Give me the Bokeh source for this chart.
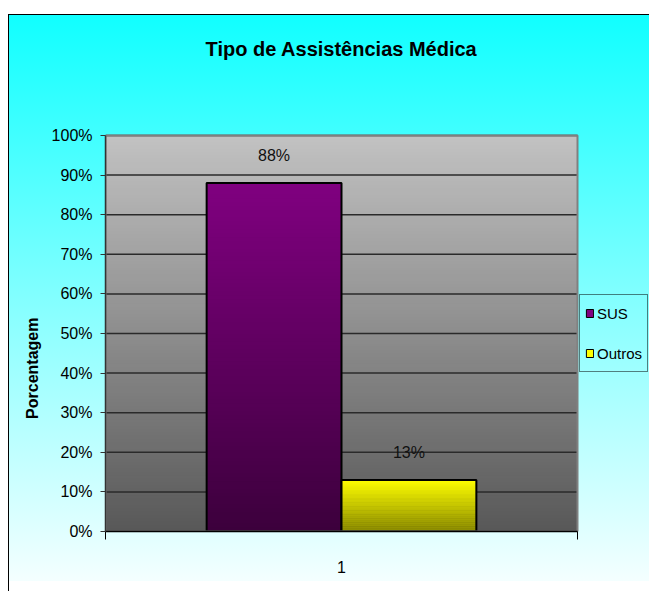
import numpy as np
from bokeh.plotting import figure
from bokeh.models import (Range1d, FixedTicker, NumeralTickFormatter, ColumnDataSource,
                          LabelSet, Label, Legend, LegendItem)
from bokeh.embed import file_html
from bokeh.resources import INLINE
from bokeh.core.properties import value

# ---- data ----
categories = ["1"]
series_names = ["SUS", "Outros"]
series_values = [0.88, 0.13]
y_ticks = [0.0, 0.1, 0.2, 0.3, 0.4, 0.5, 0.6, 0.7, 0.8, 0.9, 1.0]
title_text = "Tipo de Assistências Médica"
y_label = "Porcentagem"

# ---- style / layout ----
FONT = "Liberation Sans"
top_colors = ["#800080", "#FFFF00"]
bottom_colors = ["#3C003C", "#7F7F00"]
frame_top, frame_bottom = "#C2C2C2", "#585858"
gap = 1.5  # Excel gap width (150%)
bar_w = 1.0 / (len(series_names) + gap)

W, H = 649, 591
PA_LEFT, PA_RIGHT, PA_TOP, PA_BOTTOM = 105, 577, 135, 531   # plot-area pixels
n_cat = len(categories)
x_end = n_cat * (W - PA_LEFT) / (PA_RIGHT - PA_LEFT)
y_end = PA_BOTTOM / (PA_BOTTOM - PA_TOP)


def hex2rgb(h):
    h = h.lstrip("#")
    return np.array([int(h[i:i + 2], 16) for i in (0, 2, 4)], dtype=float)


def mix(c_bot, c_top, t):
    a, b = hex2rgb(c_bot), hex2rgb(c_top)
    c = a * (1 - t) + b * t
    return "#%02x%02x%02x" % tuple(int(round(v)) for v in c)


def strips(left, right, top, c_top, c_bot, n=90):
    ys = np.linspace(0.0, top, n + 1)
    step = ys[1] - ys[0]
    d = dict(left=[], right=[], bottom=[], top=[], color=[])
    for i in range(n):
        t = (ys[i] + ys[i + 1]) / 2.0 / top
        d["left"].append(left)
        d["right"].append(right)
        d["bottom"].append(ys[i])
        d["top"].append(min(ys[i + 1] + step * 0.6, top))
        d["color"].append(mix(c_bot, c_top, t))
    return d


p = figure(width=W, height=H, output_backend="svg", toolbar_location=None,
           x_range=Range1d(0, x_end), y_range=Range1d(0, y_end),
           min_border_left=PA_LEFT, min_border_right=0, min_border_top=0,
           min_border_bottom=H - PA_BOTTOM)

p.border_fill_color = None
p.background_fill_color = None
p.outline_line_color = None

p.styles = {
    "background": (
        "linear-gradient(#000,#000) 8px 14px/100% 1px no-repeat, "
        "linear-gradient(#000,#000) 8px 14px/1px 100% no-repeat, "
        "linear-gradient(to bottom, #10ffff, #f4ffff) 8px 14px/100% 567px no-repeat, "
        "#ffffff"
    )
}

# plot-area gradient background
bg = strips(0, n_cat, 1.0, frame_top, frame_bottom, n=120)
p.quad(left="left", right="right", bottom="bottom", top="top", fill_color="color",
       line_color=None, source=ColumnDataSource(bg), level="image")

# gridlines
p.segment(x0=[0] * len(y_ticks), x1=[n_cat] * len(y_ticks), y0=y_ticks, y1=y_ticks,
          line_color="#2a2a2a", line_width=1.5, level="underlay")

# bars
lab = dict(x=[], y=[], text=[])
legend_items = []
for ci, cat in enumerate(categories):
    for si, (name, v) in enumerate(zip(series_names, series_values)):
        left = ci + gap / 2 * bar_w + si * bar_w
        right = left + bar_w
        solid = p.quad(left=[left], right=[right], bottom=[0], top=[v],
                       fill_color=top_colors[si], line_color="black", line_width=1)
        if ci == 0:
            legend_items.append(LegendItem(label=name, renderers=[solid]))
        d = strips(left, right, v, top_colors[si], bottom_colors[si])
        p.quad(left="left", right="right", bottom="bottom", top="top", fill_color="color",
               line_color=None, source=ColumnDataSource(d))
        p.quad(left=[left], right=[right], bottom=[0], top=[v], fill_color=None,
               line_color="black", line_width=2)
        lab["x"].append((left + right) / 2)
        lab["y"].append(v)
        lab["text"].append(f"{v:.0%}")

# plot-area border
p.quad(left=[0], right=[n_cat], bottom=[0], top=[1], fill_color=None,
       line_color="#808080", line_width=2)

labels = LabelSet(x="x", y="y", text="text", source=ColumnDataSource(lab),
                  y_offset=28, text_align="center", text_baseline="middle",
                  text_font=value(FONT), text_font_size="16px", text_color="#111111")
p.add_layout(labels)

# title
title = Label(x=n_cat / 2, y=(PA_BOTTOM - 48) / (PA_BOTTOM - PA_TOP), text=title_text,
              text_align="center", text_baseline="middle", text_font=FONT,
              text_font_size="20px", text_font_style="bold", text_color="black")
p.add_layout(title)

# axes
p.xgrid.visible = False
p.ygrid.visible = False

p.yaxis.bounds = (0, 1)
p.yaxis.ticker = FixedTicker(ticks=y_ticks)
p.yaxis.formatter = NumeralTickFormatter(format="0%")
p.yaxis.major_label_text_font = FONT
p.yaxis.major_label_text_font_size = "16px"
p.yaxis.major_label_text_color = "black"
p.yaxis.major_tick_out = 5
p.yaxis.major_tick_in = 0
p.yaxis.minor_tick_line_color = None
p.yaxis.major_label_standoff = 8
p.yaxis.axis_line_color = "#333333"
p.yaxis.axis_line_width = 1.5
p.yaxis.major_tick_line_color = "#333333"
# the axis title sits lower than the frame centre: pad its end with no-break spaces
p.yaxis.axis_label = y_label + "\u00a0" * 46
p.yaxis.axis_label_text_font = FONT
p.yaxis.axis_label_text_font_size = "16px"
p.yaxis.axis_label_text_font_style = "bold"
p.yaxis.axis_label_text_color = "black"
p.yaxis.axis_label_standoff = 8

p.xaxis.bounds = (0, n_cat)
p.xaxis.ticker = FixedTicker(ticks=[i + 0.5 for i in range(n_cat)],
                             minor_ticks=list(range(n_cat + 1)))
p.xaxis.major_label_overrides = {i + 0.5: c for i, c in enumerate(categories)}
p.xaxis.major_tick_line_color = None
p.xaxis.major_tick_out = 0
p.xaxis.minor_tick_out = 8
p.xaxis.minor_tick_in = 0
p.xaxis.minor_tick_line_color = "black"
p.xaxis.axis_line_color = "black"
p.xaxis.axis_line_width = 1.5
p.xaxis.major_label_standoff = 21
p.xaxis.major_label_text_font = FONT
p.xaxis.major_label_text_font_size = "16px"
p.xaxis.major_label_text_color = "black"

legend = Legend(items=legend_items, location=(474, 159), orientation="vertical",
                label_text_font=FONT, label_text_font_size="15px", label_text_color="black",
                glyph_width=9, glyph_height=10, label_standoff=3, padding=5, spacing=14,
                label_height=26, margin=0,
                border_line_color="black", border_line_width=1, background_fill_alpha=0)
p.add_layout(legend, "center")

open("out.html", "w").write(file_html(p, INLINE))
